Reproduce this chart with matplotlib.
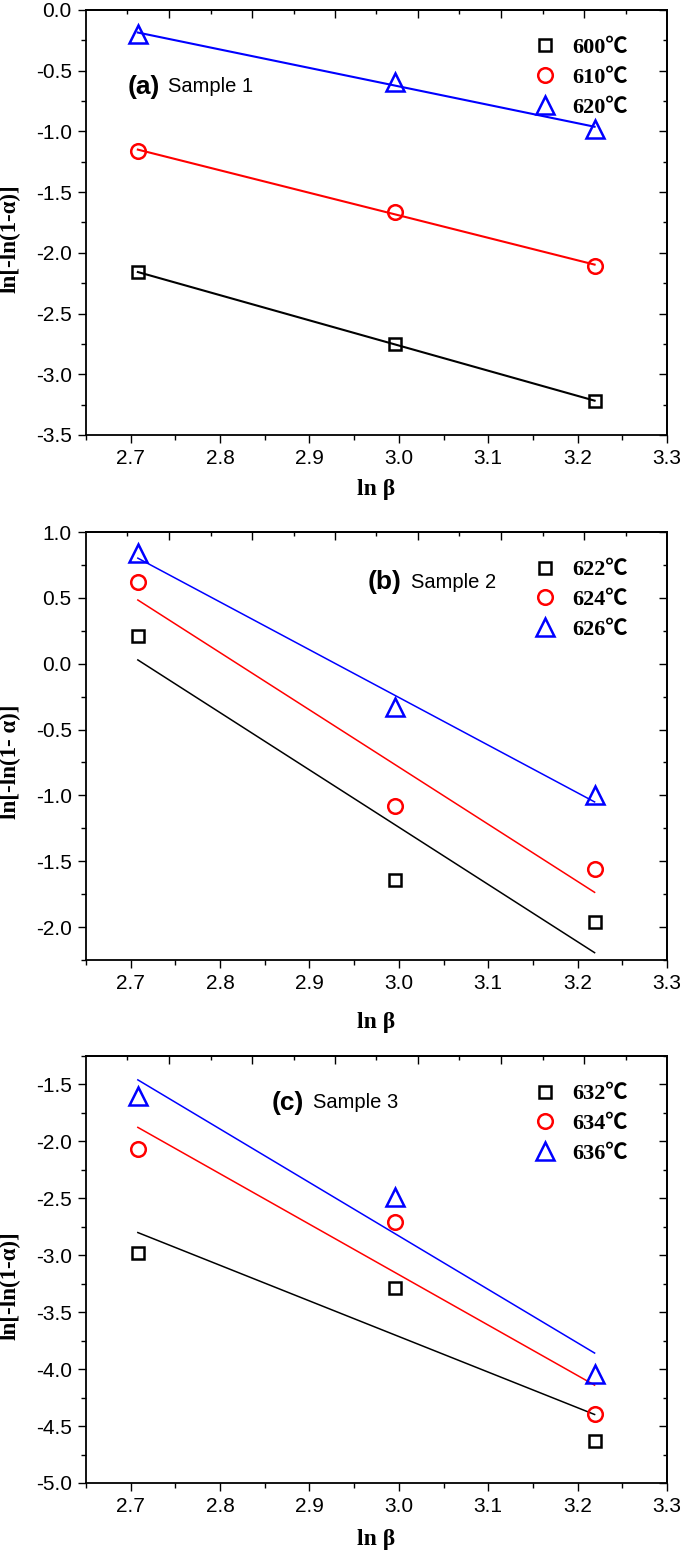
import numpy as np
import matplotlib
matplotlib.use('Agg')
import matplotlib.pyplot as plt
from matplotlib.ticker import MultipleLocator, FixedLocator

plt.rcParams['axes.unicode_minus'] = False

# ln(heating rate), same for all three samples
ln_beta = [2.708, 2.996, 3.219]

# Sample 1
temps_a = ['600℃', '610℃', '620℃']
a_600 = [-2.16, -2.75, -3.22]
a_610 = [-1.16, -1.66, -2.11]
a_620 = [-0.20, -0.59, -0.98]

# Sample 2
temps_b = ['622℃', '624℃', '626℃']
b_622 = [0.21, -1.64, -1.96]
b_624 = [0.62, -1.08, -1.56]
b_626 = [0.84, -0.33, -1.00]

# Sample 3
temps_c = ['632℃', '634℃', '636℃']
c_632 = [-2.98, -3.29, -4.63]
c_634 = [-2.07, -2.71, -4.39]
c_636 = [-1.60, -2.49, -4.04]

colors = ['black', 'red', 'blue']
markers = ['s', 'o', '^']
msizes = [8.5, 10.5, 12.5]

sans = 'Liberation Sans'
serif_cjk = ['Liberation Serif', 'Noto Sans CJK SC']

panels = [
    dict(series=[a_600, a_610, a_620], temps=temps_a, ylim=(-3.5, 0.0), tag='(a)', name='Sample 1',
         tag_xy=(0.072, 0.819), name_x=0.141, ylabel='ln[-ln(1-α)]', xlab_y=-0.104, lw=1.5),
    dict(series=[b_622, b_624, b_626], temps=temps_b, ylim=(-2.25, 1.0), tag='(b)', name='Sample 2',
         tag_xy=(0.484, 0.883), name_x=0.559, ylabel='ln[-ln(1- α)]', xlab_y=-0.122, lw=1.1),
    dict(series=[c_632, c_634, c_636], temps=temps_c, ylim=(-5.0, -1.25), tag='(c)', name='Sample 3',
         tag_xy=(0.319, 0.890), name_x=0.391, ylabel='ln[-ln(1-α)]', xlab_y=-0.108, lw=1.1),
]

fig = plt.figure(figsize=(6.85, 15.53), dpi=100)
W, H = 685, 1553
left, right = 86, 667
tops = [10, 532, 1056]
bottoms = [435, 960, 1483]

for p, top, bot in zip(panels, tops, bottoms):
    ax = fig.add_axes([left / W, 1 - bot / H, (right - left) / W, (bot - top) / H])
    x = np.array(ln_beta)
    handles = []
    for ys, c, m, ms, lab in zip(p['series'], colors, markers, msizes, p['temps']):
        k, b = np.polyfit(x, ys, 1)
        ax.plot(x[[0, -1]], k * x[[0, -1]] + b, color=c, lw=p['lw'], zorder=2)
        h, = ax.plot(x, ys, ls='none', marker=m, ms=ms, mfc='none', mec=c, mew=1.8,
                     label=lab, zorder=3)
        handles.append(h)

    ax.set_xlim(2.65, 3.3)
    ax.set_ylim(*p['ylim'])
    ax.xaxis.set_major_locator(MultipleLocator(0.1))
    ax.xaxis.set_minor_locator(MultipleLocator(0.05))
    ax.yaxis.set_major_locator(MultipleLocator(0.5))
    ax.yaxis.set_minor_locator(MultipleLocator(0.25))
    ax.tick_params(which='both', direction='out', top=False, right=False, width=1.0)
    ax.tick_params(which='major', length=6, pad=4.3, labelsize=15)
    ax.tick_params(which='minor', length=3.6)
    for t in ax.get_xticklabels() + ax.get_yticklabels():
        t.set_family(sans)
    for s in ax.spines.values():
        s.set_linewidth(1.3)

    # top axis: 14 divisions, ticks pointing in
    top_ax = ax.secondary_xaxis('top')
    div = np.linspace(2.65, 3.3, 15)
    top_ax.xaxis.set_major_locator(FixedLocator(div[2:-1:2]))
    top_ax.xaxis.set_minor_locator(FixedLocator(div[1::2]))
    top_ax.tick_params(which='both', direction='in', labeltop=False, width=1.0)
    top_ax.tick_params(which='major', length=5.5)
    top_ax.tick_params(which='minor', length=3)
    top_ax.spines['top'].set_linewidth(1.3)

    right_ax = ax.secondary_yaxis('right')
    right_ax.yaxis.set_major_locator(MultipleLocator(0.5))
    right_ax.yaxis.set_minor_locator(MultipleLocator(0.25))
    right_ax.tick_params(which='both', direction='in', labelright=False, width=1.0)
    right_ax.tick_params(which='major', length=5.5)
    right_ax.tick_params(which='minor', length=3)
    right_ax.spines['right'].set_linewidth(1.3)

    ax.set_ylabel(p['ylabel'], fontsize=16.5, fontweight='bold', family='Liberation Serif')
    ax.yaxis.set_label_coords(-0.112, 0.463)
    ax.set_xlabel('ln β', fontsize=17, fontweight='bold', family='Liberation Serif')
    ax.xaxis.set_label_coords(0.5, p['xlab_y'])

    ax.text(p['tag_xy'][0], p['tag_xy'][1], p['tag'], transform=ax.transAxes,
            fontsize=19, fontweight='bold', family=sans, va='center', ha='left')
    ax.text(p['name_x'], p['tag_xy'][1], p['name'], transform=ax.transAxes,
            fontsize=14.5, family=sans, va='center', ha='left')

    ax.legend(handles=handles, loc='upper right', bbox_to_anchor=(0.932, 0.935),
              frameon=False, numpoints=1, handlelength=1.0, handletextpad=0.7,
              labelspacing=0.42, borderpad=0, borderaxespad=0,
              prop=dict(family=serif_cjk, weight='bold', size=16))

fig.savefig('out.png', dpi=100)
